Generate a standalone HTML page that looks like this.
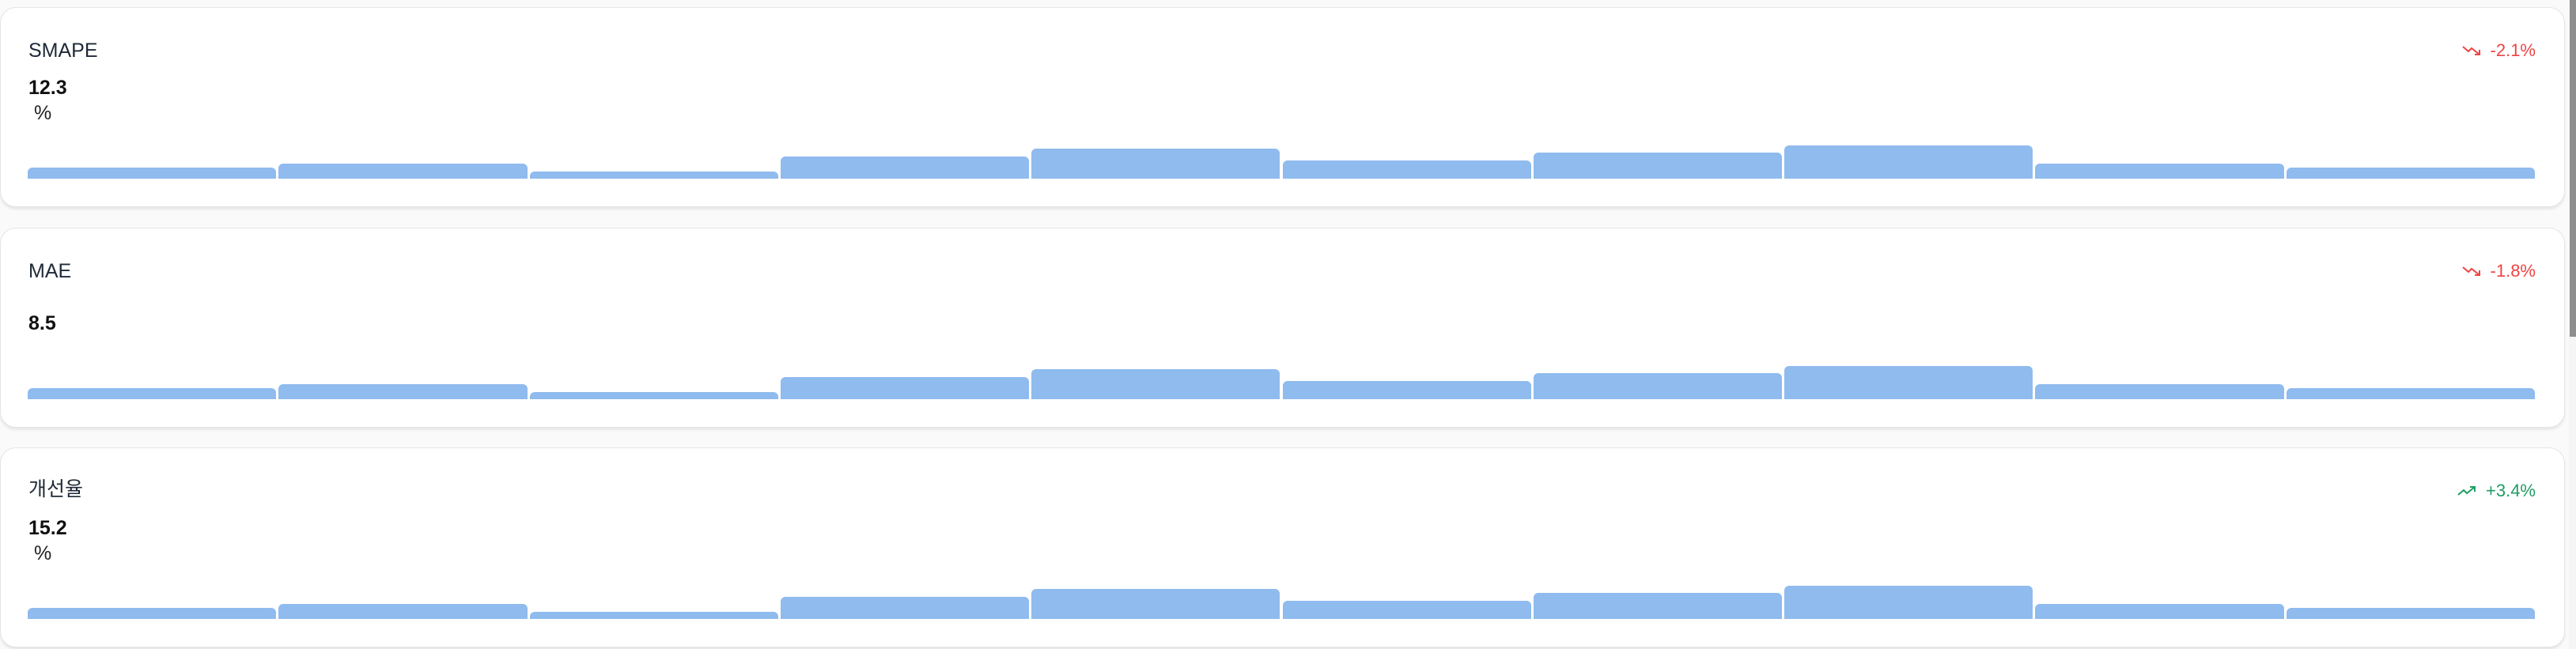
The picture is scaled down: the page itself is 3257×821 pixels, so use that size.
<!DOCTYPE html>
<html><head><meta charset="utf-8">
<style>
html,body{margin:0;padding:0;width:3257px;height:821px;overflow:hidden;background:#fafafa;font-family:"Liberation Sans","Noto Sans CJK KR",sans-serif}
.card{position:absolute;left:0;width:3243px;background:#fff;border:1px solid #e3e5e8;border-radius:20px;box-shadow:0 3px 3px rgba(0,0,0,0.08);box-sizing:border-box}
.title{position:absolute;left:35px;font-size:25px;color:#1f2937;line-height:1}
.value{position:absolute;left:35px;font-size:25px;font-weight:bold;color:#111;line-height:1}
.unit{position:absolute;left:42px;font-size:25px;color:#222;line-height:1}
.trend{position:absolute;right:36px;font-size:22px;line-height:1;display:flex;align-items:center;gap:12px}
.bar{position:absolute;background:#8fbbee;border-radius:6px 6px 0 0}
#sb{position:absolute;left:3248px;top:0;width:9px;height:821px;background:#f5f5f5}
#thumb{position:absolute;left:3249px;top:0;width:8px;height:426px;background:#8e8e8e}
</style></head>
<body>
<div id="sb"></div>
<div id="thumb"></div>
<script>
const cardTitles = ["SMAPE","MAE","개선율"];
const cardValues = ["12.3","8.5","15.2"];
const cardUnits = ["%","","%"];
const cardTrends = ["-2.1%","-1.8%","+3.4%"];
const cardTops = [9,288,566];
const barValues = [14,19,9,28,38,23,33,42,19,14];
const barMax = 42;

const plotLeft = 35, plotRight = 3208, plotHeight = 42, barBase = 216;
const slot = (plotRight - plotLeft) / barValues.length;
function xPos(i){ return plotLeft + i * slot; }
function hScale(v){ return v / barMax * plotHeight; }

cardTitles.forEach((t, c) => {
  const card = document.createElement('div');
  card.className = 'card';
  
  
  card.style.top = cardTops[c] + 'px';
  card.style.height = '253px';
  document.body.appendChild(card);

  const ti = document.createElement('div');
  ti.className = 'title';
  
  
  ti.style.top = (c === 2 ? 40 : 42) + 'px';
  ti.textContent = t;
  card.appendChild(ti);

  const va = document.createElement('div');
  va.className = 'value';
  
  
  va.style.top = (cardUnits[c] ? 89 : 108) + 'px';
  va.textContent = cardValues[c];
  card.appendChild(va);

  if (cardUnits[c]) {
    const u = document.createElement('div');
    u.className = 'unit';
    
    
    u.style.top = '121px';
    u.textContent = cardUnits[c];
    card.appendChild(u);
  }

  const up = cardTrends[c].startsWith('+');
  const col = up ? '#1f9d63' : '#ef4444';
  const tr = document.createElement('div');
  tr.className = 'trend';
  
  
  tr.style.top = '43px';
  tr.style.color = col;
  const icon = up
    ? '<svg width="24" height="16" viewBox="0 0 24 16"><polyline points="1,13 8,7 12,11 22,3" fill="none" stroke="'+col+'" stroke-width="2"/><polyline points="16,3 22,3 22,9" fill="none" stroke="'+col+'" stroke-width="2"/></svg>'
    : '<svg width="24" height="16" viewBox="0 0 24 16"><polyline points="1,3 8,9 12,5 22,13" fill="none" stroke="'+col+'" stroke-width="2"/><polyline points="16,13 22,13 22,7" fill="none" stroke="'+col+'" stroke-width="2"/></svg>';
  tr.innerHTML = icon + '<span>' + cardTrends[c] + '</span>';
  card.appendChild(tr);

  barValues.forEach((v, i) => {
    const b = document.createElement('div');
    b.className = 'bar';
    
    
    const h = hScale(v);
    b.style.left = (xPos(i) - 1) + 'px';
    b.style.width = (slot - 3) + 'px';
    b.style.top = (barBase - h) + 'px';
    b.style.height = h + 'px';
    card.appendChild(b);
  });
});
</script>
</body></html>
